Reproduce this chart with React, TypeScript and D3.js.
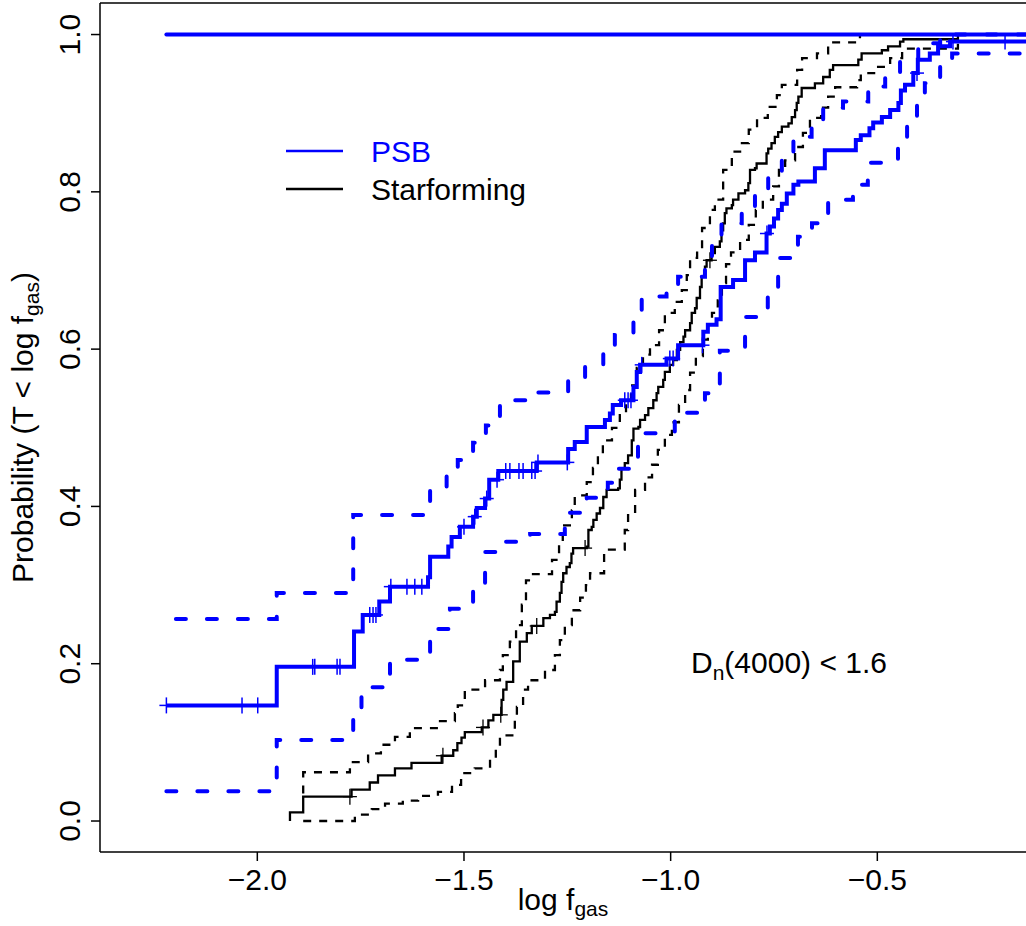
import React from "react";
import * as d3 from "d3";

// ---- data (log f_gas, cumulative probability) ----
const xTicks = [-2.0, -1.5, -1.0, -0.5];
const yTicks = [0.0, 0.2, 0.4, 0.6, 0.8, 1.0];

// PSB Kaplan-Meier steps [x, y]
const psbSteps: [number, number][] = [
  [-2.220, 0.147], [-1.953, 0.196], [-1.766, 0.241], [-1.745, 0.262], [-1.705, 0.279],
  [-1.679, 0.298], [-1.587, 0.310], [-1.582, 0.336], [-1.538, 0.349], [-1.530, 0.361],
  [-1.510, 0.374], [-1.478, 0.387], [-1.469, 0.398], [-1.449, 0.410], [-1.439, 0.434],
  [-1.417, 0.445], [-1.324, 0.456], [-1.248, 0.473], [-1.232, 0.482], [-1.203, 0.501],
  [-1.159, 0.510], [-1.147, 0.518], [-1.140, 0.529], [-1.120, 0.535], [-1.090, 0.552],
  [-1.082, 0.571], [-1.074, 0.580], [-1.010, 0.588], [-0.982, 0.605], [-0.921, 0.622],
  [-0.910, 0.631], [-0.889, 0.638], [-0.879, 0.679], [-0.849, 0.688], [-0.820, 0.713],
  [-0.796, 0.723], [-0.768, 0.747], [-0.760, 0.756], [-0.750, 0.766], [-0.740, 0.777],
  [-0.731, 0.785], [-0.719, 0.798], [-0.703, 0.809], [-0.691, 0.813], [-0.651, 0.830],
  [-0.627, 0.853], [-0.552, 0.866], [-0.540, 0.872], [-0.519, 0.881], [-0.510, 0.888],
  [-0.489, 0.895], [-0.469, 0.904], [-0.449, 0.913], [-0.443, 0.929], [-0.433, 0.936],
  [-0.413, 0.951], [-0.402, 0.968], [-0.373, 0.976], [-0.353, 0.985], [-0.324, 0.991],
];
const psbCensored = [
  -2.220, -2.037, -1.999, -1.866, -1.861, -1.807, -1.800, -1.728, -1.720, -1.713,
  -1.677, -1.638, -1.619, -1.602, -1.500, -1.474, -1.445, -1.420, -1.399, -1.389,
  -1.367, -1.357, -1.336, -1.328, -1.321, -1.250, -1.111, -1.103, -1.096, -1.070,
  -1.002, -0.994, -0.923, -0.767, -0.404, -0.317, -0.191,
];
const psbUpper: [number, number][] = [
  [-2.197, 0.257], [-1.953, 0.290], [-1.768, 0.389], [-1.582, 0.421], [-1.542, 0.440],
  [-1.515, 0.459], [-1.478, 0.481], [-1.447, 0.503], [-1.413, 0.535], [-1.326, 0.545],
  [-1.248, 0.563], [-1.207, 0.580], [-1.163, 0.599], [-1.135, 0.618], [-1.090, 0.650],
  [-1.070, 0.667], [-1.010, 0.675], [-0.982, 0.692], [-0.917, 0.709], [-0.900, 0.739],
  [-0.877, 0.760], [-0.828, 0.773], [-0.796, 0.800], [-0.764, 0.819], [-0.731, 0.844],
  [-0.703, 0.870], [-0.659, 0.884], [-0.631, 0.907], [-0.583, 0.915], [-0.522, 0.934],
  [-0.481, 0.951], [-0.445, 0.968], [-0.401, 0.989], [-0.348, 1.0],
];
const psbLower: [number, number][] = [
  [-2.220, 0.038], [-1.953, 0.103], [-1.768, 0.139], [-1.748, 0.170], [-1.679, 0.205],
  [-1.582, 0.244], [-1.534, 0.270], [-1.478, 0.294], [-1.449, 0.342], [-1.406, 0.355],
  [-1.340, 0.365], [-1.256, 0.392], [-1.203, 0.411], [-1.152, 0.430], [-1.135, 0.448],
  [-1.079, 0.493], [-0.990, 0.519], [-0.917, 0.544], [-0.881, 0.598], [-0.820, 0.641],
  [-0.765, 0.675], [-0.740, 0.716], [-0.692, 0.743], [-0.658, 0.760], [-0.619, 0.790],
  [-0.559, 0.809], [-0.523, 0.837], [-0.450, 0.862], [-0.428, 0.891], [-0.404, 0.919],
  [-0.385, 0.938], [-0.348, 0.961], [-0.319, 0.976],
];
const psbTop: [number, number][] = [[-2.220, 1.0]];

// Starforming Kaplan-Meier steps [x, y]
const sfSteps: [number, number][] = [
  [-1.921, 0], [-1.921, 0.011], [-1.889, 0.031], [-1.772, 0.040], [-1.728, 0.049],
  [-1.708, 0.058], [-1.667, 0.067], [-1.627, 0.074], [-1.554, 0.083], [-1.526, 0.090],
  [-1.516, 0.099], [-1.506, 0.106], [-1.498, 0.113], [-1.457, 0.119], [-1.441, 0.128],
  [-1.429, 0.135], [-1.409, 0.154], [-1.405, 0.167], [-1.397, 0.177], [-1.381, 0.203],
  [-1.365, 0.228], [-1.348, 0.239], [-1.336, 0.248], [-1.308, 0.258], [-1.292, 0.262],
  [-1.280, 0.266], [-1.276, 0.279], [-1.268, 0.290], [-1.264, 0.304], [-1.260, 0.315],
  [-1.252, 0.323], [-1.244, 0.328], [-1.240, 0.340], [-1.236, 0.347], [-1.203, 0.349],
  [-1.199, 0.370], [-1.191, 0.374], [-1.187, 0.383], [-1.179, 0.391], [-1.171, 0.398],
  [-1.163, 0.412], [-1.155, 0.421], [-1.127, 0.423], [-1.123, 0.434], [-1.119, 0.448],
  [-1.111, 0.455], [-1.103, 0.465], [-1.094, 0.484], [-1.090, 0.499], [-1.078, 0.501],
  [-1.074, 0.510], [-1.062, 0.516], [-1.054, 0.525], [-1.042, 0.535], [-1.034, 0.544],
  [-1.030, 0.552], [-1.018, 0.561], [-1.014, 0.571], [-1.002, 0.580], [-0.994, 0.586],
  [-0.985, 0.599], [-0.977, 0.609], [-0.969, 0.616], [-0.965, 0.624], [-0.953, 0.633],
  [-0.949, 0.646], [-0.941, 0.652], [-0.937, 0.665], [-0.929, 0.679], [-0.925, 0.692],
  [-0.917, 0.705], [-0.913, 0.713], [-0.901, 0.722], [-0.893, 0.730], [-0.881, 0.737],
  [-0.877, 0.751], [-0.873, 0.760], [-0.869, 0.773], [-0.865, 0.779], [-0.852, 0.783],
  [-0.849, 0.790], [-0.836, 0.798], [-0.820, 0.802], [-0.812, 0.811], [-0.808, 0.828],
  [-0.796, 0.830], [-0.792, 0.836], [-0.768, 0.849], [-0.764, 0.855], [-0.756, 0.862],
  [-0.748, 0.870], [-0.740, 0.876], [-0.731, 0.883], [-0.715, 0.887], [-0.707, 0.895],
  [-0.699, 0.904], [-0.695, 0.913], [-0.691, 0.921], [-0.683, 0.932], [-0.651, 0.938],
  [-0.631, 0.946], [-0.615, 0.955], [-0.607, 0.961], [-0.546, 0.968], [-0.538, 0.976],
  [-0.489, 0.980], [-0.474, 0.985], [-0.445, 0.991], [-0.437, 0.994], [-0.305, 1.0],
];
const sfCensored = [-1.776, -1.551, -1.454, -1.411, -1.324, -1.207, -0.905];
const sfUpper: [number, number][] = [
  [-1.889, 0.035], [-1.889, 0.062], [-1.776, 0.075], [-1.732, 0.086], [-1.701, 0.097],
  [-1.667, 0.107], [-1.631, 0.118], [-1.558, 0.127], [-1.522, 0.137], [-1.515, 0.147],
  [-1.498, 0.167], [-1.449, 0.179], [-1.413, 0.192], [-1.406, 0.211], [-1.389, 0.228],
  [-1.374, 0.249], [-1.360, 0.275], [-1.350, 0.306], [-1.333, 0.314], [-1.287, 0.332],
  [-1.270, 0.351], [-1.261, 0.376], [-1.239, 0.395], [-1.232, 0.414], [-1.203, 0.431],
  [-1.188, 0.449], [-1.176, 0.465], [-1.164, 0.484], [-1.142, 0.500], [-1.123, 0.516],
  [-1.108, 0.535], [-1.096, 0.554], [-1.082, 0.576], [-1.067, 0.593], [-1.050, 0.605],
  [-1.028, 0.624], [-1.014, 0.646], [-0.990, 0.660], [-0.973, 0.675], [-0.961, 0.694],
  [-0.953, 0.716], [-0.936, 0.726], [-0.924, 0.754], [-0.905, 0.777], [-0.893, 0.790],
  [-0.873, 0.828], [-0.852, 0.851], [-0.832, 0.862], [-0.811, 0.879], [-0.791, 0.894],
  [-0.765, 0.908], [-0.743, 0.923], [-0.731, 0.936], [-0.694, 0.955], [-0.682, 0.970],
  [-0.646, 0.976], [-0.619, 0.990], [-0.542, 1.0],
];
const sfLower: [number, number][] = [
  [-1.889, 0], [-1.764, 0.008], [-1.723, 0.015], [-1.691, 0.022], [-1.648, 0.026],
  [-1.611, 0.032], [-1.563, 0.037], [-1.529, 0.046], [-1.507, 0.061], [-1.474, 0.067],
  [-1.437, 0.078], [-1.423, 0.093], [-1.413, 0.109], [-1.377, 0.128], [-1.372, 0.145],
  [-1.357, 0.167], [-1.345, 0.179], [-1.304, 0.192], [-1.280, 0.211], [-1.268, 0.230],
  [-1.256, 0.249], [-1.239, 0.268], [-1.219, 0.284], [-1.205, 0.300], [-1.195, 0.315],
  [-1.161, 0.345], [-1.111, 0.370], [-1.103, 0.389], [-1.086, 0.421], [-1.062, 0.437],
  [-1.045, 0.453], [-1.031, 0.472], [-1.014, 0.491], [-0.997, 0.507], [-0.980, 0.529],
  [-0.965, 0.548], [-0.953, 0.570], [-0.939, 0.591], [-0.922, 0.612], [-0.910, 0.631],
  [-0.900, 0.646], [-0.886, 0.662], [-0.876, 0.684], [-0.866, 0.708], [-0.854, 0.723],
  [-0.832, 0.739], [-0.811, 0.758], [-0.794, 0.777], [-0.777, 0.790], [-0.752, 0.807],
  [-0.738, 0.828], [-0.723, 0.840], [-0.699, 0.857], [-0.680, 0.875], [-0.663, 0.894],
  [-0.636, 0.907], [-0.619, 0.921], [-0.602, 0.933], [-0.549, 0.942], [-0.540, 0.951],
  [-0.501, 0.959], [-0.469, 0.970], [-0.440, 0.982], [-0.305, 1.0],
];

const xDomain: [number, number] = [-2.3806, -0.1403];
const yDomain: [number, number] = [-0.0394, 1.0401];

const W = 1026;
const H = 926;
const L = 100, R = 1026, T = 3, B = 852;
const BLUE = "#0000ff";
const FONT = "'Liberation Sans', Arial, Helvetica, sans-serif";

export default function App() {
  const x = d3.scaleLinear().domain(xDomain).range([L, R]);
  const y = d3.scaleLinear().domain(yDomain).range([B, T]);
  const step = d3
    .line<[number, number]>()
    .x((d) => x(d[0]))
    .y((d) => y(d[1]))
    .curve(d3.curveStepAfter);
  const extend = (pts: [number, number][], xe: number): [number, number][] => [
    ...pts,
    [xe, pts[pts.length - 1][1]],
  ];
  const valueAt = (pts: [number, number][], xv: number) => {
    let v = pts[0][1];
    for (const p of pts) if (p[0] <= xv) v = p[1];
    return v;
  };
  const xEnd = -0.05;
  const fmt = (v: number) => (v < 0 ? "\u2212" + Math.abs(v).toFixed(1) : v.toFixed(1));

  return (
    <svg
      width={W}
      height={H}
      style={{ position: "absolute", left: 0, top: 0, background: "#fff" }}
      fontFamily={FONT}
    >
      <defs>
        <clipPath id="plotclip">
          <rect x={L} y={T} width={R - L} height={B - T} />
        </clipPath>
      </defs>
      <rect x={0} y={0} width={W} height={H} fill="#fff" />
      <g clipPath="url(#plotclip)" fill="none">
        {/* Starforming */}
        <path d={step(sfLower) || ""} stroke="#000" strokeWidth={2.3} strokeDasharray="8 8" />
        <path d={step(sfUpper) || ""} stroke="#000" strokeWidth={2.3} strokeDasharray="8 8" />
        <path d={step(sfSteps) || ""} stroke="#000" strokeWidth={2.3} />
        {sfCensored.map((c, i) => {
          const cx = x(c), cy = y(valueAt(sfSteps, c));
          return (
            <g key={"sc" + i} stroke="#000" strokeWidth={1.3}>
              <line x1={cx - 7} x2={cx + 7} y1={cy} y2={cy} />
              <line x1={cx} x2={cx} y1={cy - 8} y2={cy + 8} />
            </g>
          );
        })}
        {/* PSB */}
        <path d={step(extend(psbTop, xEnd)) || ""} stroke={BLUE} strokeWidth={4} strokeLinecap="round" />
        <path
          d={step(extend(psbUpper, xEnd)) || ""}
          stroke={BLUE}
          strokeWidth={4}
          strokeDasharray="10 21"
          strokeLinecap="round"
        />
        <path
          d={step(extend(psbLower, xEnd)) || ""}
          stroke={BLUE}
          strokeWidth={4}
          strokeDasharray="10 21"
          strokeLinecap="round"
        />
        <path d={step(extend(psbSteps, xEnd)) || ""} stroke={BLUE} strokeWidth={4} />
        {psbCensored.map((c, i) => {
          const cx = x(c), cy = y(valueAt(psbSteps, c));
          return (
            <g key={"pc" + i} stroke={BLUE} strokeWidth={1.5}>
              <line x1={cx - 7} x2={cx + 7} y1={cy} y2={cy} />
              <line x1={cx} x2={cx} y1={cy - 8} y2={cy + 8} />
            </g>
          );
        })}
      </g>

      {/* box */}
      <g stroke="#000" strokeWidth={1.5} fill="none">
        <line x1={L} x2={L} y1={T} y2={B} />
        <line x1={L} x2={W} y1={T} y2={T} />
        <line x1={L} x2={W} y1={B} y2={B} />
      </g>

      {/* x axis */}
      {xTicks.map((t) => (
        <g key={"xt" + t}>
          <line x1={x(t)} x2={x(t)} y1={B} y2={B + 9} stroke="#000" strokeWidth={1.5} />
          <text x={x(t)} y={890} textAnchor="middle" fontSize={30}>
            {fmt(t)}
          </text>
        </g>
      ))}
      {/* y axis */}
      {yTicks.map((t) => (
        <g key={"yt" + t}>
          <line x1={L} x2={L - 9} y1={y(t)} y2={y(t)} stroke="#000" strokeWidth={1.5} />
          <text transform={`translate(80,${y(t)}) rotate(-90)`} textAnchor="middle" fontSize={30}>
            {fmt(t)}
          </text>
        </g>
      ))}

      {/* axis titles */}
      <text x={(L + R) / 2} y={910} textAnchor="middle" fontSize={30}>
        log f<tspan fontSize={21} dy={6}>gas</tspan>
      </text>
      <text transform={`translate(33,${(T + B) / 2}) rotate(-90)`} textAnchor="middle" fontSize={30}>
        Probability (T &lt; log f<tspan fontSize={21} dy={6}>gas</tspan>
        <tspan dy={-6}>)</tspan>
      </text>

      {/* legend */}
      <line x1={286} x2={343} y1={151} y2={151} stroke={BLUE} strokeWidth={2.5} />
      <text x={371} y={162} fontSize={30} fill={BLUE}>
        PSB
      </text>
      <line x1={286} x2={343} y1={189} y2={189} stroke="#000" strokeWidth={2.5} />
      <text x={371} y={200} fontSize={30} fill="#000">
        Starforming
      </text>

      {/* annotation */}
      <text x={691} y={673} fontSize={30}>
        D<tspan fontSize={21} dy={7}>n</tspan>
        <tspan dy={-7}>(4000) &lt; 1.6</tspan>
      </text>
    </svg>
  );
}
